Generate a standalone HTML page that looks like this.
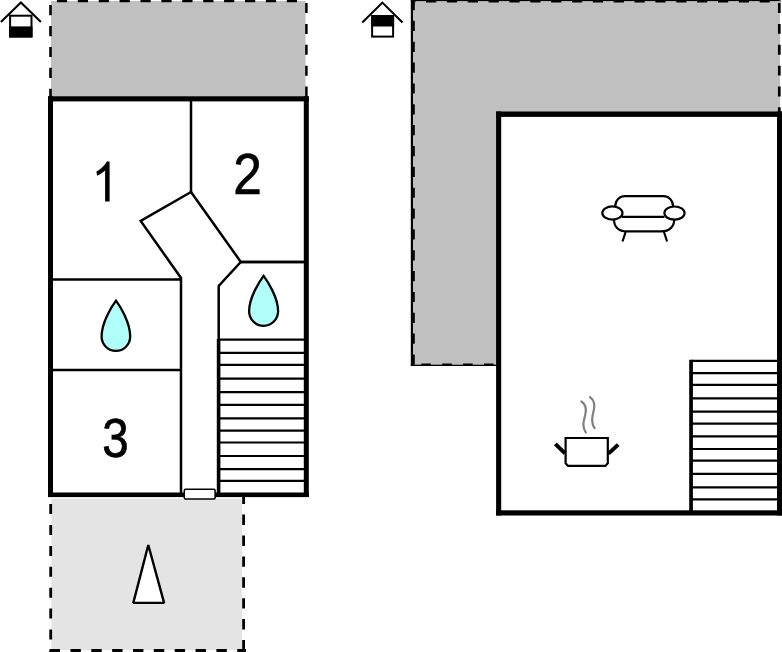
<!DOCTYPE html>
<html>
<head>
<meta charset="utf-8">
<style>
html,body{margin:0;padding:0;background:#fff;}
body{width:782px;height:652px;overflow:hidden;}
svg{display:block;}
text{font-family:"Liberation Sans",sans-serif;}
</style>
</head>
<body>
<svg width="782" height="652" viewBox="0 0 782 652">
<!-- ===== LEFT PLAN ===== -->
<!-- top gray terrace -->
<rect x="51" y="1" width="254.5" height="96" fill="#c0c0c0"/>
<line x1="56.9" y1="1.15" x2="307" y2="1.15" stroke="#000" stroke-width="2.3" stroke-dasharray="10.2 10.7"/>
<line x1="50.5" y1="5.1" x2="50.5" y2="97" stroke="#000" stroke-width="2.6" stroke-dasharray="10.2 10.7"/>
<line x1="306.4" y1="3" x2="306.4" y2="97" stroke="#000" stroke-width="2.5" stroke-dasharray="10 10.9"/>

<!-- bottom light gray terrace -->
<rect x="51.3" y="498.6" width="190.9" height="151.4" fill="#e4e4e4"/>
<line x1="50.7" y1="504.1" x2="50.7" y2="652" stroke="#000" stroke-width="2.8" stroke-dasharray="10 10.9"/>
<line x1="243.6" y1="493.7" x2="243.6" y2="652" stroke="#000" stroke-width="2.8" stroke-dasharray="10.4 10.5"/>
<line x1="49.6" y1="650.5" x2="246" y2="650.5" stroke="#000" stroke-width="3" stroke-dasharray="10.4 10.45"/>
<path d="M148.3,545 L133.3,602.9 L164.1,602.9 Z" fill="#fff" stroke="#000" stroke-width="2.4" stroke-linejoin="bevel"/>

<!-- interior -->
<rect x="53" y="101" width="251" height="392" fill="#fff"/>
<g fill="none" stroke="#000" stroke-width="2.5">
  <line x1="191" y1="100" x2="191" y2="192"/>
  <polyline points="191,192 140.7,220.9 181,278 181,493"/>
  <polyline points="191,192 240.8,261.9 304,261.9"/>
  <polyline points="305,261.9 240.8,261.9 218.7,286 218.7,340"/>
  <line x1="52" y1="279.4" x2="181" y2="279.4"/>
  <line x1="52" y1="370" x2="181" y2="370"/>
</g>
<!-- stairs left -->
<g stroke="#000" stroke-width="2.2">
  <line x1="218" y1="339.7" x2="304" y2="339.7"/>
  <line x1="218" y1="352.8" x2="304" y2="352.8"/>
  <line x1="218" y1="364.8" x2="304" y2="364.8"/>
  <line x1="218" y1="378.6" x2="304" y2="378.6"/>
  <line x1="218" y1="392.2" x2="304" y2="392.2"/>
  <line x1="218" y1="404.9" x2="304" y2="404.9"/>
  <line x1="218" y1="418.3" x2="304" y2="418.3"/>
  <line x1="218" y1="430.6" x2="304" y2="430.6"/>
  <line x1="218" y1="442.5" x2="304" y2="442.5"/>
  <line x1="218" y1="456" x2="304" y2="456"/>
  <line x1="218" y1="469.1" x2="304" y2="469.1"/>
  <line x1="218" y1="480.9" x2="304" y2="480.9"/>
</g>
<rect x="216.8" y="339" width="3.6" height="155" fill="#000"/>

<!-- walls -->
<rect x="48" y="96.3" width="5" height="400.7" fill="#000"/>
<rect x="303.8" y="96.3" width="5" height="400.7" fill="#000"/>
<rect x="48" y="96.3" width="260.8" height="5.1" fill="#000"/>
<rect x="48" y="492.5" width="260.8" height="4.6" fill="#000"/>
<!-- door -->
<rect x="184.3" y="489.2" width="30.8" height="9.8" rx="1.2" fill="#fff" stroke="#000" stroke-width="1.5"/>

<!-- drops -->
<path id="drop" d="M116,300.6 C112,306 101.6,322 101.6,336.6 A14.3,14.3 0 0 0 130.2,336.6 C130.2,322 120,306 116,300.6 Z" fill="#b0fffb" stroke="#000" stroke-width="2.3"/>
<path d="M263.6,275.9 C259.6,281.3 249.1,297.3 249.1,311.3 A14.5,14.5 0 0 0 278.1,311.3 C278.1,297.3 267.6,281.3 263.6,275.9 Z" fill="#b0fffb" stroke="#000" stroke-width="2.3"/>

<!-- numbers -->
<path d="M109.6,161.4 L109.6,201.6 L105.1,201.6 L105.1,170.6 C102.8,172.6 99.8,174.6 97.1,175.8 L96.4,171.4 C100.4,169.4 104.6,165.6 106.9,161.4 Z" fill="#000"/>
<text transform="translate(233.3,194.1) scale(0.895,1)" font-size="57.4" stroke="#000" stroke-width="0.7">2</text>
<text transform="translate(102.24,457.4) scale(0.848,1)" font-size="55.93" stroke="#000" stroke-width="0.7">3</text>

<!-- house icon 1 -->
<polyline points="0.9,22 20.9,2.5 40.9,22" fill="none" stroke="#000" stroke-width="2.1"/>
<rect x="10.1" y="15.7" width="21.4" height="20.8" fill="#fff" stroke="#000" stroke-width="2"/>
<rect x="9.1" y="26.4" width="23.4" height="11.1" fill="#000"/>

<!-- ===== RIGHT PLAN ===== -->
<path d="M413,1 L780,1 L780,114 L498,114 L498,364.5 L413,364.5 Z" fill="#c0c0c0"/>
<rect x="410.8" y="0" width="2.2" height="366" fill="#000"/>
<rect x="410.8" y="364.6" width="86" height="1.4" fill="#000"/>
<rect x="410.8" y="0" width="369" height="1.1" fill="#000"/>
<line x1="413.6" y1="0" x2="413.6" y2="366" stroke="#000" stroke-width="2.4" stroke-dasharray="10.2 10.65"/>
<line x1="411" y1="1.3" x2="781" y2="1.3" stroke="#000" stroke-width="2.6" stroke-dasharray="10.2 10.65" stroke-dashoffset="5.8"/>
<line x1="779.3" y1="3.1" x2="779.3" y2="112" stroke="#000" stroke-width="2.7" stroke-dasharray="9.9 10.95"/>
<line x1="421.3" y1="364.6" x2="497" y2="364.6" stroke="#000" stroke-width="2.4" stroke-dasharray="9.6 11.3"/>

<rect x="501" y="117" width="277" height="394" fill="#fff"/>
<!-- stairs right -->
<g stroke="#000" stroke-width="2.2">
  <line x1="691" y1="360.8" x2="778" y2="360.8"/>
  <line x1="691" y1="373.2" x2="778" y2="373.2"/>
  <line x1="691" y1="384.8" x2="778" y2="384.8"/>
  <line x1="691" y1="398.3" x2="778" y2="398.3"/>
  <line x1="691" y1="411.7" x2="778" y2="411.7"/>
  <line x1="691" y1="423.7" x2="778" y2="423.7"/>
  <line x1="691" y1="436.4" x2="778" y2="436.4"/>
  <line x1="691" y1="449" x2="778" y2="449"/>
  <line x1="691" y1="460.7" x2="778" y2="460.7"/>
  <line x1="691" y1="473.9" x2="778" y2="473.9"/>
  <line x1="691" y1="487.3" x2="778" y2="487.3"/>
  <line x1="691" y1="499.3" x2="778" y2="499.3"/>
</g>
<rect x="689.2" y="359.8" width="3.7" height="152" fill="#000"/>

<!-- walls right -->
<rect x="496.1" y="111.5" width="5.1" height="404" fill="#000"/>
<rect x="777" y="111.5" width="5" height="404" fill="#000"/>
<rect x="496.1" y="111.5" width="286" height="5.4" fill="#000"/>
<rect x="496.1" y="510.3" width="286" height="5.2" fill="#000"/>

<!-- couch -->
<g fill="none" stroke="#000" stroke-width="2.2" stroke-linecap="butt">
  <path d="M615.3,207 L615.3,205.8 A9.6,9.6 0 0 1 624.9,196.2 L663.4,196.2 A9.6,9.6 0 0 1 673,205.8 L673,207"/>
  <ellipse cx="612.4" cy="213" rx="10.1" ry="6.6" fill="#fff"/>
  <ellipse cx="674.5" cy="213.1" rx="10.1" ry="6.6" fill="#fff"/>
  <line x1="622" y1="216.8" x2="664.5" y2="216.8"/>
  <path d="M614,219.5 C614,226 618,231.4 627,231.4 L661,231.4 C670,231.4 674.2,226 674.2,219.5"/>
  <line x1="625.6" y1="232" x2="622.5" y2="241.5"/>
  <line x1="664" y1="232" x2="667.1" y2="241.5"/>
</g>

<!-- pot -->
<g fill="none">
  <path d="M581.4,401.5 C584.5,403.5 586,407 585.8,411 C585.6,416 583.2,420 583.4,425 C583.5,428 584.5,430.5 585.8,432.5" stroke="#808080" stroke-width="2.2" stroke-linecap="round"/>
  <path d="M589.9,397.1 C592.8,399 594.3,402 594.3,406 C594.3,411 592.2,414 592.2,419 C592.2,423 593,426 594.6,428.1" stroke="#808080" stroke-width="2.2" stroke-linecap="round"/>
  <path d="M565.6,438 L607.8,438 L607.8,463.3 L605.3,465.9 L568.1,465.9 L565.6,463.3 Z" fill="#fff" stroke="#000" stroke-width="2.2"/>
  <line x1="555.3" y1="443.9" x2="565" y2="453.4" stroke="#000" stroke-width="4"/>
  <line x1="608.5" y1="453.6" x2="618.2" y2="444.6" stroke="#000" stroke-width="4"/>
</g>

<!-- house icon 2 -->
<polyline points="362.3,22.4 382.4,2.6 402.5,22.4" fill="none" stroke="#000" stroke-width="2.1"/>
<rect x="372.1" y="16.1" width="21" height="20.5" fill="#fff" stroke="#000" stroke-width="2"/>
<rect x="371.1" y="15.1" width="23" height="11.4" fill="#000"/>
</svg>
</body>
</html>
